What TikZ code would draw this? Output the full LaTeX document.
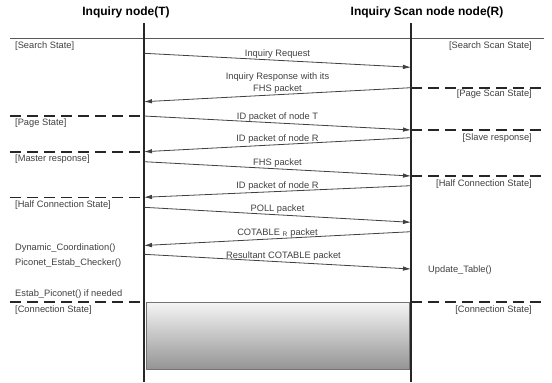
\documentclass[tikz,border=0pt]{standalone}
\usepackage{fontspec}
\setmainfont{Liberation Sans}
\usetikzlibrary{arrows.meta}
\begin{document}
\begin{tikzpicture}[x=1pt,y=-1pt,
  title/.style={font=\fontsize{12}{14}\selectfont\bfseries, inner sep=0pt},
  lbl/.style={font=\fontsize{9.3}{11}\selectfont, text=black!75, inner sep=0pt},
  msglbl/.style={lbl, align=center, above, inner sep=1pt},
  life/.style={line width=1.4pt, black!85},
  msg/.style={line width=0.8pt, black!75, -{Latex[length=8pt,width=4.5pt]}},
  sep/.style={line width=1.6pt, black!85, dash pattern=on 11pt off 6pt},
  rule/.style={line width=0.8pt, black!65}
]
\useasboundingbox (0,0) rectangle (552,383);

% titles
\node[title] (tT) at (126,12) {Inquiry node(T)};
\node[title] (tR) at (427,12) {Inquiry Scan node node(R)};

% top rule
\coordinate (ruleL) at (10,38);
\coordinate (ruleR) at (544,38);
\draw[rule] (ruleL) -- (ruleR);

% final connection box
\coordinate (boxA) at (146,302);
\coordinate (boxB) at (409.5,369.5);
\shade[top color=white!96!black, bottom color=black!42] (boxA) rectangle (boxB);
\draw[line width=0.9pt, black!55] (boxA) rectangle (boxB);

% lifelines
\coordinate (Ttop) at (144,23);
\coordinate (Tbot) at (144,382);
\coordinate (Rtop) at (411,23);
\coordinate (Rbot) at (411,382);
\draw[life] (Ttop) -- (Tbot);
\draw[life] (Rtop) -- (Rbot);

% message endpoints
\coordinate (t1) at (144,53.3);  \coordinate (r1) at (411,67.3);
\coordinate (r2) at (411,87.7);  \coordinate (t2) at (144,101.7);
\coordinate (t3) at (144,116);   \coordinate (r3) at (411,130);
\coordinate (r4) at (411,137.7); \coordinate (t4) at (144,151.7);
\coordinate (t5) at (144,161.7); \coordinate (r5) at (411,176);
\coordinate (r6) at (411,185.7); \coordinate (t6) at (144,197.3);
\coordinate (t7) at (144,207.3); \coordinate (r7) at (411,222.3);
\coordinate (r8) at (411,231.7); \coordinate (t8) at (144,245.5);
\coordinate (t9) at (144,254.3); \coordinate (r9) at (411,269);

% state separators (dashed)
\coordinate (dR1) at (545,87.7);
\coordinate (dL1) at (10,116);
\coordinate (dR2) at (545,130);
\coordinate (dL2) at (10,151.7);
\coordinate (dR3) at (545,176);
\coordinate (dL3) at (10,197.3);
\coordinate (dL4) at (10,302);
\coordinate (tC) at (144,302);
\coordinate (rC) at (411,302);
\coordinate (dR4) at (545,302);
\draw[sep] (r2) -- (dR1);
\draw[sep] (dL1) -- (t3);
\draw[sep] (r3) -- (dR2);
\draw[sep] (dL2) -- (t4);
\draw[sep] (r5) -- (dR3);
\draw[sep] (dL3) -- (t6);
\draw[sep] (dL4) -- (tC);
\draw[sep] (rC) -- (dR4);

% messages
\draw[msg] (t1) -- (r1) node[msglbl, midway] (m1) {Inquiry Request};
\draw[msg] (r2) -- (t2) node[msglbl, midway, font=\fontsize{9.3}{12}\selectfont] (m2) {Inquiry Response with its\\FHS packet};
\draw[msg] (t3) -- (r3) node[msglbl, midway] (m3) {ID packet of node T};
\draw[msg] (r4) -- (t4) node[msglbl, midway] (m4) {ID packet of node R};
\draw[msg] (t5) -- (r5) node[msglbl, midway] (m5) {FHS packet};
\draw[msg] (r6) -- (t6) node[msglbl, midway] (m6) {ID packet of node R};
\draw[msg] (t7) -- (r7) node[msglbl, midway] (m7) {POLL packet};
\draw[msg] (r8) -- (t8) node[msglbl, midway] (m8) {COTABLE $_{\mathrm{R}}$ packet};
\draw[msg] (t9) -- (r9) node[msglbl, midway, xshift=6pt] (m9) {Resultant COTABLE packet};

% left state labels
\node[lbl, anchor=west] (sL1) at (15,46) {[Search State]};
\node[lbl, anchor=west] (sL2) at (15,123) {[Page State]};
\node[lbl, anchor=west] (sL3) at (15,159.5) {[Master response]};
\node[lbl, anchor=west] (sL4) at (15,205.5) {[Half Connection State]};
\node[lbl, anchor=west] (fL1) at (15,247.7) {Dynamic\_Coordination()};
\node[lbl, anchor=west] (fL2) at (15,263) {Piconet\_Estab\_Checker()};
\node[lbl, anchor=west] (fL3) at (15,294.3) {Estab\_Piconet() if needed};
\node[lbl, anchor=west] (sL5) at (15,310) {[Connection State]};

% right state labels
\node[lbl, anchor=east] (sR1) at (532,46) {[Search Scan State]};
\node[lbl, anchor=east] (sR2) at (532,94.5) {[Page Scan State]};
\node[lbl, anchor=east] (sR3) at (532,138) {[Slave response]};
\node[lbl, anchor=east] (sR4) at (532,184) {[Half Connection State]};
\node[lbl, anchor=west] (fR1) at (428,270) {Update\_Table()};
\node[lbl, anchor=east] (sR5) at (532,310) {[Connection State]};
\end{tikzpicture}
\end{document}
